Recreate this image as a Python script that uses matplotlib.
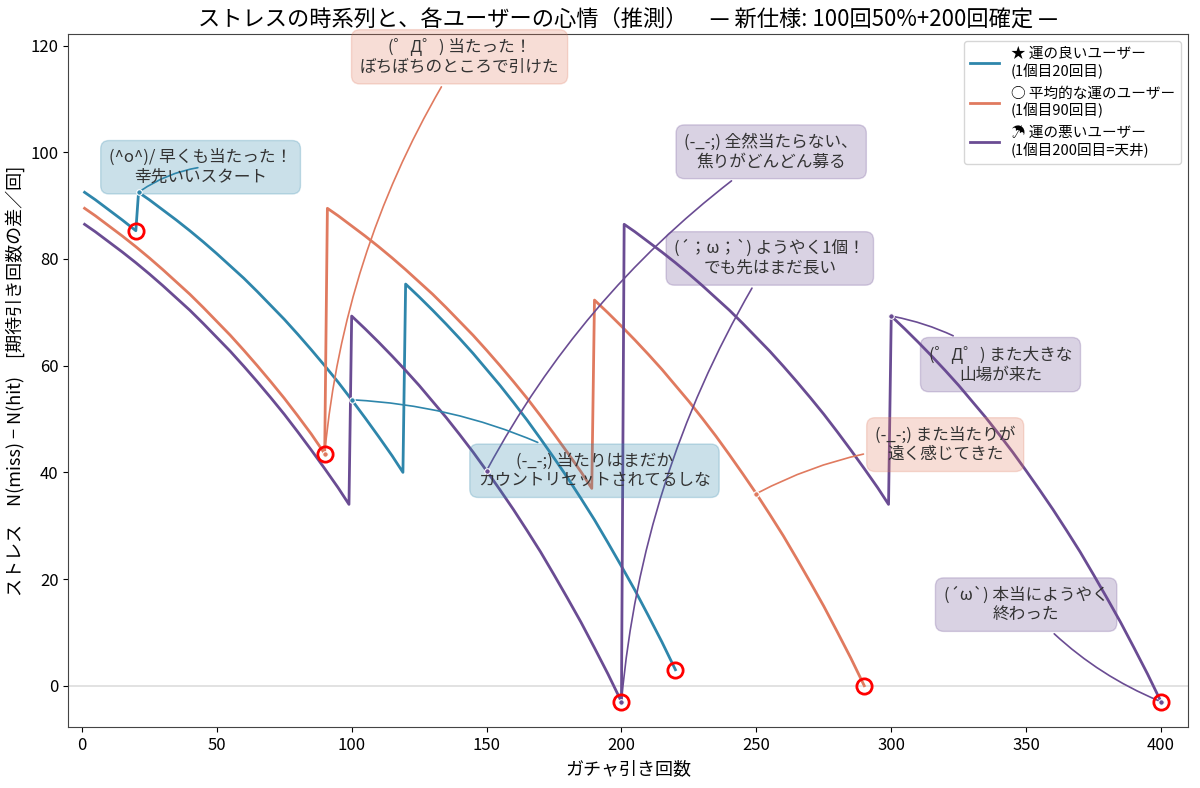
import matplotlib.pyplot as plt

plt.rcParams['font.family'] = ['Noto Sans CJK JP', 'DejaVu Sans']

# ---- data (draw count, stress) ----
good_x = ([1, 5, 10, 15, 20]
          + [21] + list(range(25, 116, 5)) + [119]
          + list(range(120, 221, 5)))
good_y = [92.5, 91.1, 89.2, 87.3, 85.3,
          92.5, 91.1, 89.2, 87.3, 85.3, 83.2, 81.0, 78.7, 76.4, 73.9, 71.3,
          68.7, 65.9, 63.0, 60.0, 56.9, 53.6, 50.2, 46.7, 43.1, 40.0,
          75.3, 72.9, 70.4, 67.8, 65.1, 62.3, 59.3, 56.3, 53.1, 49.8, 46.3,
          42.7, 39.0, 35.1, 31.1, 26.8, 22.4, 17.9, 13.1, 8.2, 3.0]

avg_x = ([1] + list(range(5, 91, 5))
         + [91] + list(range(95, 186, 5)) + [189]
         + list(range(190, 291, 5)))
avg_y = [89.5, 88.1, 86.2, 84.3, 82.3, 80.2, 78.0, 75.7, 73.4, 70.9,
         68.3, 65.7, 62.9, 60.0, 57.0, 53.9, 50.6, 47.2, 43.5,
         89.5, 88.1, 86.2, 84.3, 82.3, 80.2, 78.0, 75.7, 73.4, 70.9, 68.3,
         65.7, 62.9, 60.0, 57.0, 53.9, 50.6, 47.2, 43.7, 40.1, 37.0,
         72.3, 69.9, 67.4, 64.8, 62.1, 59.3, 56.3, 53.3, 50.1, 46.8, 43.3,
         39.7, 36.0, 32.1, 28.1, 23.8, 19.4, 14.9, 10.1, 5.2, 0.0]

bad_x = ([1] + list(range(5, 96, 5)) + [99]
         + list(range(100, 201, 5))
         + [201] + list(range(205, 296, 5)) + [299]
         + list(range(300, 401, 5)))
bad_y = [86.5, 85.1, 83.2, 81.3, 79.3, 77.2, 75.0, 72.7, 70.4, 67.9, 65.3,
         62.7, 59.9, 57.0, 54.0, 50.9, 47.6, 44.2, 40.7, 37.1, 34.0,
         69.3, 66.9, 64.4, 61.8, 59.1, 56.3, 53.3, 50.3, 47.1, 43.8, 40.3,
         36.7, 33.0, 29.1, 25.1, 20.8, 16.4, 11.9, 7.1, 2.2, -3.0,
         86.5, 85.1, 83.2, 81.3, 79.3, 77.2, 75.0, 72.7, 70.4, 67.9, 65.3,
         62.7, 59.9, 57.0, 54.0, 50.9, 47.6, 44.2, 40.7, 37.1, 34.0,
         69.3, 66.9, 64.4, 61.8, 59.1, 56.3, 53.3, 50.3, 47.1, 43.8, 40.3,
         36.7, 33.0, 29.1, 25.1, 20.8, 16.4, 11.9, 7.1, 2.2, -3.0]

hit_x = [20, 220, 90, 290, 200, 400]
hit_y = [85.3, 3.0, 43.5, 0.0, -3.0, -3.0]

labels = ['★ 運の良いユーザー\n(1個目20回目)',
          '○ 平均的な運のユーザー\n(1個目90回目)',
          '☂ 運の悪いユーザー\n(1個目200回目=天井)']
colors = ['#2E86AB', '#E07A5F', '#6A4C93']

# text, point, text position, colour index
notes = [
    ('(^o^)/ 早くも当たった！\n幸先いいスタート', (21, 92.5), (44, 97.2), 0),
    ('(゜Д゜) 当たった！\nぼちぼちのところで引けた', (90, 43.5), (140, 117.9), 1),
    ('(-_-;) 全然当たらない、\n焦りがどんどん募る', (150, 40.3), (255.5, 100.1), 2),
    ('(´；ω；`) ようやく1個！\nでも先はまだ長い', (200, -3.0), (255, 80.1), 2),
    ('(゜Д゜) また大きな\n山場が来た', (300, 69.3), (340.5, 60.2), 2),
    ('(-_-;) また当たりが\n遠く感じてきた', (250, 36.0), (320, 45.2), 1),
    ('(-_-;) 当たりはまだか\nカウントリセットされてるしな', (100, 53.6), (190, 40.3), 0),
    ('(´ω`) 本当にようやく\n終わった', (400, -3.0), (350, 15.2), 2),
]

fig = plt.figure(figsize=(12, 7.88), dpi=100)
ax = fig.add_subplot(111)
fig.subplots_adjust(left=0.057, right=0.99, top=0.957, bottom=0.077)

ax.axhline(0, color='#dddddd', lw=1.2, zorder=1)

for xs, ys, lab, c in zip([good_x, avg_x, bad_x], [good_y, avg_y, bad_y], labels, colors):
    ax.plot(xs, ys, color=c, lw=2, label=lab, zorder=2)

ax.plot(hit_x, hit_y, 'o', ms=11, mfc='none', mec='red', mew=2, zorder=5)

for txt, (px, py), (tx, ty), ci in notes:
    c = colors[ci]
    ax.plot(px, py, 'o', ms=4, color=c, mec='white', mew=0.8, zorder=6)
    ax.annotate(txt, xy=(px, py), xytext=(tx, ty), ha='center', va='center',
                fontsize=12, color='#333333', zorder=4,
                bbox=dict(boxstyle='round,pad=0.5', fc=c, ec=c, alpha=0.25),
                arrowprops=dict(arrowstyle='-', color=c, lw=1.2,
                                connectionstyle='arc3,rad=0.12'))

ax.set_xlim(-5, 410)
ax.set_ylim(-7.8, 122.2)
ax.set_xticks(range(0, 401, 50))
ax.set_yticks(range(0, 121, 20))
ax.tick_params(labelsize=12)
for s in ax.spines.values():
    s.set_color('#444444')

ax.set_xlabel('ガチャ引き回数', fontsize=13)
ax.set_ylabel('ストレス　N(miss) − N(hit)　[期待引き回数の差／回]', fontsize=13)
ax.set_title('ストレスの時系列と、各ユーザーの心情（推測）　— 新仕様: 100回50%+200回確定 —', fontsize=16)
ax.legend(loc='upper right', fontsize=10.5)

fig.savefig('out.png', dpi=100)
